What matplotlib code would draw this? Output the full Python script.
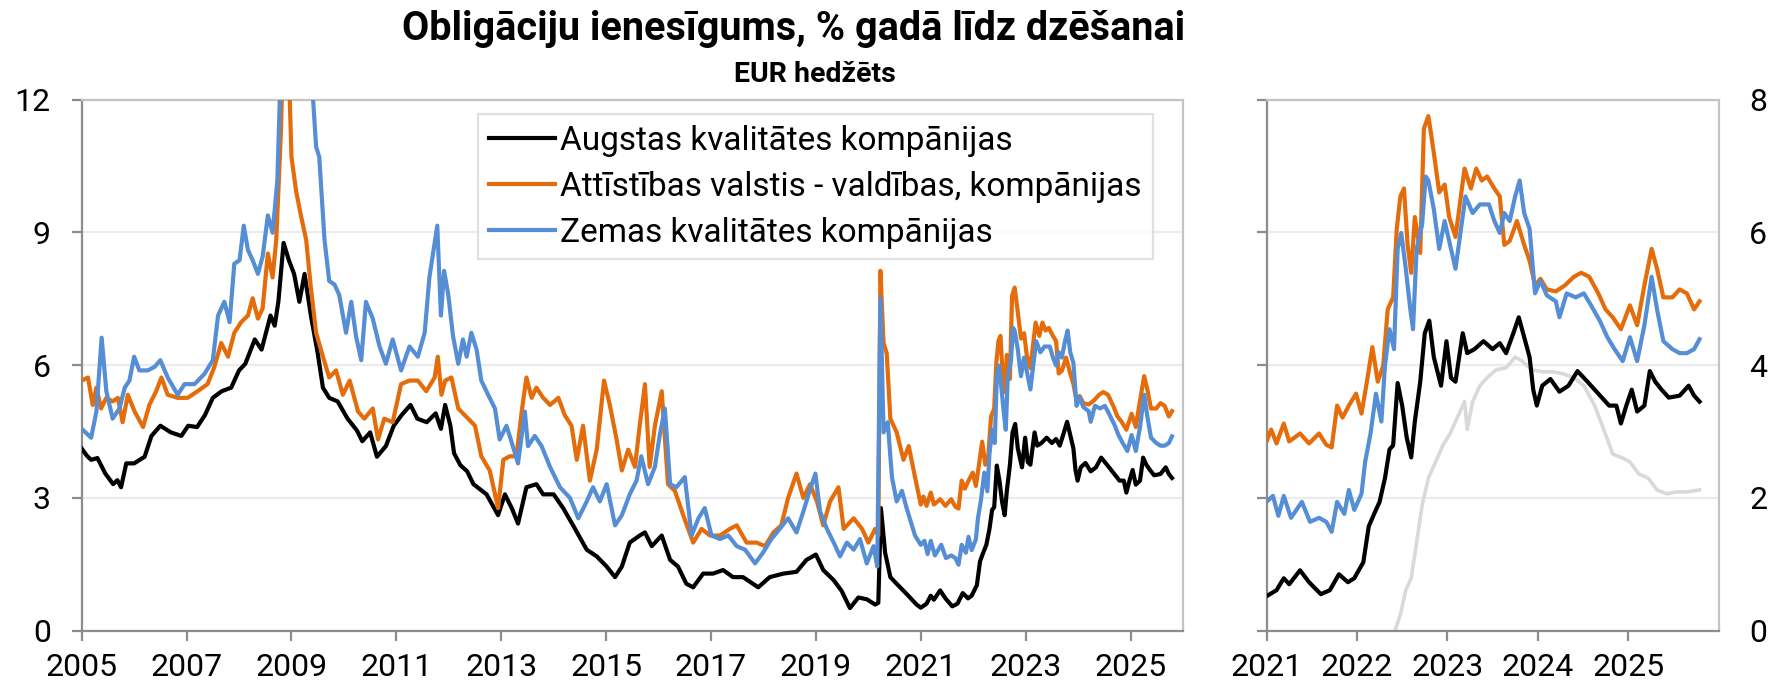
import matplotlib
matplotlib.use("Agg")
import matplotlib.pyplot as plt

plt.rcParams['font.family'] = ['Roboto', 'DejaVu Sans']

# data (decimal years, % p.a.)
hg_t = [2004.99, 2005.1, 2005.18, 2005.3, 2005.45, 2005.6, 2005.68, 2005.75, 2005.85, 2006.0,
        2006.2, 2006.33, 2006.5, 2006.7, 2006.9, 2007.03, 2007.2, 2007.35, 2007.5, 2007.67,
        2007.85, 2008.0, 2008.12, 2008.3, 2008.43, 2008.6, 2008.68, 2008.75, 2008.85, 2008.95,
        2009.05, 2009.15, 2009.25, 2009.37, 2009.5, 2009.6, 2009.72, 2009.88, 2010.07, 2010.25,
        2010.35, 2010.5, 2010.63, 2010.8, 2010.95, 2011.1, 2011.27, 2011.4, 2011.58, 2011.75,
        2011.85, 2011.93, 2012.03, 2012.1, 2012.22, 2012.35, 2012.47, 2012.72, 2012.94, 2013.07,
        2013.2, 2013.32, 2013.48, 2013.67, 2013.8, 2014.0, 2014.18, 2014.37, 2014.63, 2014.82,
        2015.01, 2015.17, 2015.3, 2015.45, 2015.64, 2015.74, 2015.87, 2016.06, 2016.22, 2016.37,
        2016.53, 2016.66, 2016.85, 2017.04, 2017.23, 2017.42, 2017.61, 2017.9, 2018.12, 2018.38,
        2018.63, 2018.82, 2019.0, 2019.14, 2019.34, 2019.49, 2019.65, 2019.81, 2019.97, 2020.13,
        2020.19, 2020.24, 2020.32, 2020.42, 2020.54, 2020.73, 2020.92,
        2021.0, 2021.11, 2021.19, 2021.25, 2021.37, 2021.47, 2021.6, 2021.7, 2021.8, 2021.9,
        2021.97, 2022.07, 2022.13, 2022.19, 2022.25, 2022.31, 2022.36, 2022.4, 2022.45, 2022.5,
        2022.55, 2022.6, 2022.64, 2022.7, 2022.75, 2022.8, 2022.85, 2022.93, 2022.99, 2023.04,
        2023.09, 2023.17, 2023.22, 2023.3, 2023.4, 2023.5, 2023.58, 2023.65, 2023.73, 2023.79,
        2023.85, 2023.91, 2023.95, 2023.99, 2024.05, 2024.14, 2024.24, 2024.34, 2024.44, 2024.55,
        2024.67, 2024.79, 2024.87, 2024.92, 2024.98, 2025.04, 2025.1, 2025.18, 2025.24, 2025.3,
        2025.37, 2025.45, 2025.57, 2025.67, 2025.73, 2025.79]
hg_y = [4.13, 3.95, 3.86, 3.9, 3.55, 3.31, 3.4, 3.24, 3.78, 3.78,
        3.93, 4.4, 4.63, 4.48, 4.4, 4.63, 4.6, 4.87, 5.26, 5.41,
        5.49, 5.88, 6.03, 6.58, 6.35, 7.12, 6.89, 7.43, 8.76, 8.37,
        8.06, 7.43, 8.06, 7.12, 6.27, 5.49, 5.26, 5.18, 4.79, 4.52,
        4.28, 4.48, 3.93, 4.17, 4.63, 4.87, 5.1, 4.79, 4.71, 4.91,
        4.56, 5.1, 4.63, 4.01, 3.74, 3.6, 3.31, 3.08, 2.61, 3.08,
        2.77, 2.42, 3.24, 3.31, 3.08, 3.08, 2.77, 2.38, 1.83, 1.68,
        1.45, 1.21, 1.45, 1.99, 2.15, 2.22, 1.91, 2.15, 1.6, 1.45,
        1.06, 0.98, 1.29, 1.29, 1.37, 1.21, 1.21, 0.98, 1.21, 1.29,
        1.33, 1.6, 1.72, 1.37, 1.14, 0.9, 0.51, 0.75, 0.71, 0.59,
        0.63, 2.77, 1.76, 1.21, 1.06, 0.83, 0.59,
        0.52, 0.61, 0.79, 0.7, 0.91, 0.73, 0.55, 0.61, 0.85, 0.73,
        0.79, 1.03, 1.57, 1.76, 1.94, 2.3, 2.73, 2.79, 3.73, 3.39,
        2.91, 2.61, 3.15, 3.75, 4.48, 4.67, 4.12, 3.69, 4.36, 3.81,
        3.75, 4.48, 4.18, 4.24, 4.36, 4.24, 4.33, 4.18, 4.48, 4.72,
        4.42, 4.12, 3.63, 3.39, 3.69, 3.79, 3.6, 3.69, 3.91, 3.75,
        3.57, 3.39, 3.39, 3.12, 3.39, 3.63, 3.3, 3.39, 3.91, 3.75,
        3.63, 3.51, 3.54, 3.69, 3.54, 3.45]

em_t = [2005.0, 2005.12, 2005.21, 2005.28, 2005.37, 2005.47, 2005.59, 2005.69, 2005.78, 2005.88,
        2006.01, 2006.17, 2006.29, 2006.42, 2006.52, 2006.64, 2006.83, 2007.02, 2007.21, 2007.4,
        2007.53, 2007.66, 2007.79, 2007.91, 2008.04, 2008.17, 2008.26, 2008.36, 2008.45, 2008.55,
        2008.64, 2008.71, 2008.8, 2008.86, 2008.93, 2009.0, 2009.09, 2009.18, 2009.28, 2009.37,
        2009.47, 2009.6, 2009.72, 2009.85, 2009.98, 2010.11, 2010.27, 2010.39, 2010.55, 2010.65,
        2010.77, 2010.93, 2011.09, 2011.25, 2011.41, 2011.57, 2011.73, 2011.79, 2011.86, 2011.93,
        2012.05, 2012.18, 2012.37, 2012.5, 2012.62, 2012.78, 2012.94, 2013.04, 2013.16, 2013.29,
        2013.39, 2013.48, 2013.58, 2013.67, 2013.8, 2013.93, 2014.09, 2014.21, 2014.34, 2014.44,
        2014.56, 2014.69, 2014.82, 2014.96, 2015.07, 2015.2, 2015.3, 2015.42, 2015.55, 2015.64,
        2015.74, 2015.83, 2015.93, 2016.06, 2016.18, 2016.31, 2016.47, 2016.66, 2016.82, 2016.98,
        2017.17, 2017.36, 2017.49, 2017.68, 2017.87, 2018.03, 2018.19, 2018.34, 2018.47, 2018.63,
        2018.76, 2018.89, 2019.02, 2019.14, 2019.27, 2019.43, 2019.53, 2019.72, 2019.88, 2020.0,
        2020.13, 2020.19, 2020.23, 2020.29, 2020.35, 2020.42, 2020.54, 2020.67, 2020.77, 2020.89,
        2021.0, 2021.05, 2021.11, 2021.19, 2021.25, 2021.37, 2021.47, 2021.58, 2021.66, 2021.72,
        2021.78, 2021.84, 2021.91, 2021.99, 2022.05, 2022.11, 2022.17, 2022.23, 2022.29, 2022.34,
        2022.4, 2022.44, 2022.48, 2022.52, 2022.56, 2022.6, 2022.64, 2022.7, 2022.74, 2022.79,
        2022.85, 2022.91, 2022.97, 2023.02, 2023.09, 2023.19, 2023.26, 2023.32, 2023.38, 2023.44,
        2023.52, 2023.58, 2023.63, 2023.69, 2023.77, 2023.85, 2023.91, 2023.97, 2024.03, 2024.1,
        2024.2, 2024.3, 2024.4, 2024.48, 2024.57, 2024.67, 2024.75, 2024.83, 2024.92, 2025.02,
        2025.1, 2025.18, 2025.26, 2025.32, 2025.39, 2025.49, 2025.57, 2025.65, 2025.73, 2025.79]
em_y = [5.65, 5.72, 5.1, 5.49, 5.02, 5.26, 5.18, 5.26, 4.71, 5.33,
        4.95, 4.6, 5.1, 5.41, 5.72, 5.33, 5.26, 5.26, 5.41, 5.57,
        5.96, 6.5, 6.19, 6.73, 6.97, 7.12, 7.51, 7.05, 7.28, 8.52,
        7.98, 8.83, 11.3, 14.2, 13.5, 10.7, 9.92, 9.38, 8.83, 7.75,
        6.73, 6.19, 5.72, 5.88, 5.33, 5.65, 4.95, 4.79, 5.02, 4.32,
        4.79, 4.71, 5.57, 5.65, 5.65, 5.41, 5.72, 6.19, 5.33, 5.65,
        5.72, 5.02, 4.79, 4.63, 3.94, 3.62, 2.77, 3.86, 3.94, 3.94,
        4.95, 5.72, 5.26, 5.49, 5.26, 5.1, 5.26, 4.87, 4.63, 3.86,
        4.63, 3.39, 4.09, 5.65, 5.1, 4.32, 3.62, 4.09, 3.7, 4.63,
        5.57, 3.7, 4.63, 5.41, 3.31, 3.16, 2.61, 1.99, 2.3, 2.15,
        2.15, 2.3, 2.38, 1.99, 1.99, 1.91, 2.22, 2.38, 3.0, 3.55,
        3.0, 3.31, 2.92, 2.38, 2.92, 3.24, 2.3, 2.54, 2.3, 1.99,
        2.3, 2.15, 8.13, 6.5, 6.27, 4.79, 4.48, 3.86, 4.17, 3.47,
        2.85, 3.03, 2.82, 3.12, 2.85, 2.97, 2.82, 2.97, 2.8, 2.76,
        3.39, 3.21, 3.39, 3.57, 3.27, 3.75, 4.27, 3.75, 3.99, 4.84,
        5.02, 6.05, 6.54, 6.66, 5.81, 5.39, 6.23, 5.69, 7.56, 7.75,
        7.2, 6.6, 6.72, 6.23, 5.93, 6.96, 6.66, 6.96, 6.78, 6.84,
        6.66, 6.54, 5.81, 5.87, 6.17, 5.81, 5.57, 5.2, 5.3, 5.14,
        5.11, 5.2, 5.33, 5.39, 5.33, 5.08, 4.84, 4.72, 4.54, 4.9,
        4.6, 5.2, 5.75, 5.45, 5.02, 5.02, 5.14, 5.08, 4.84, 4.96]

hy_t = [2005.0, 2005.18, 2005.28, 2005.38, 2005.47, 2005.59, 2005.72, 2005.82, 2005.91, 2006.0,
        2006.1, 2006.26, 2006.39, 2006.5, 2006.64, 2006.83, 2006.96, 2007.15, 2007.34, 2007.5,
        2007.6, 2007.72, 2007.82, 2007.91, 2008.01, 2008.09, 2008.17, 2008.26, 2008.36, 2008.45,
        2008.55, 2008.64, 2008.73, 2008.79, 2008.85, 2008.95, 2009.1, 2009.25, 2009.38, 2009.47,
        2009.53, 2009.63, 2009.72, 2009.82, 2009.91, 2010.04, 2010.14, 2010.23, 2010.33, 2010.42,
        2010.55, 2010.68, 2010.8, 2010.93, 2011.09, 2011.25, 2011.41, 2011.54, 2011.63, 2011.78,
        2011.85, 2011.91, 2011.99, 2012.08, 2012.18, 2012.27, 2012.34, 2012.43, 2012.53, 2012.62,
        2012.75, 2012.88, 2012.97, 2013.1, 2013.2, 2013.32, 2013.45, 2013.51, 2013.64, 2013.77,
        2013.93, 2014.12, 2014.31, 2014.47, 2014.63, 2014.75, 2014.88, 2015.01, 2015.17, 2015.3,
        2015.45, 2015.58, 2015.67, 2015.8, 2015.93, 2016.02, 2016.12, 2016.22, 2016.34, 2016.5,
        2016.63, 2016.76, 2016.88, 2017.01, 2017.17, 2017.33, 2017.49, 2017.65, 2017.84, 2017.99,
        2018.15, 2018.31, 2018.47, 2018.63, 2018.76, 2018.88, 2018.99, 2019.08, 2019.21, 2019.34,
        2019.46, 2019.59, 2019.72, 2019.84, 2019.97, 2020.1, 2020.17, 2020.23, 2020.29, 2020.37,
        2020.45, 2020.54, 2020.64, 2020.73, 2020.89,
        2021.0, 2021.07, 2021.13, 2021.19, 2021.27, 2021.39, 2021.48, 2021.58, 2021.66, 2021.72,
        2021.78, 2021.86, 2021.91, 2021.97, 2022.05, 2022.09, 2022.15, 2022.21, 2022.27, 2022.31,
        2022.36, 2022.41, 2022.45, 2022.49, 2022.54, 2022.59, 2022.62, 2022.66, 2022.72, 2022.76,
        2022.79, 2022.85, 2022.91, 2022.97, 2023.03, 2023.09, 2023.15, 2023.2, 2023.28, 2023.36,
        2023.46, 2023.52, 2023.58, 2023.63, 2023.69, 2023.75, 2023.8, 2023.85, 2023.91, 2023.97,
        2024.03, 2024.1, 2024.2, 2024.24, 2024.32, 2024.42, 2024.51, 2024.59, 2024.69, 2024.77,
        2024.85, 2024.94, 2025.02, 2025.1, 2025.18, 2025.26, 2025.32, 2025.39, 2025.49, 2025.57,
        2025.65, 2025.73, 2025.79]
hy_y = [4.56, 4.36, 4.95, 6.62, 5.41, 4.79, 5.02, 5.49, 5.65, 6.19,
        5.88, 5.88, 5.96, 6.11, 5.72, 5.33, 5.57, 5.57, 5.8, 6.11,
        7.12, 7.43, 6.97, 8.29, 8.37, 9.15, 8.6, 8.37, 8.06, 8.45,
        9.38, 8.99, 10.16, 12.5, 17.0, 21.0, 20.0, 16.0, 12.6, 10.93,
        10.7, 8.83, 7.9, 7.82, 7.59, 6.73, 7.43, 6.66, 6.11, 7.43,
        7.05, 6.42, 6.03, 6.58, 5.88, 6.42, 6.19, 6.73, 7.98, 9.15,
        7.12, 8.13, 7.59, 6.66, 6.03, 6.58, 6.19, 6.73, 6.35, 5.65,
        5.33, 5.02, 4.32, 4.63, 4.25, 3.78, 4.95, 4.17, 4.4, 4.17,
        3.7, 3.24, 3.0, 2.54, 2.92, 3.24, 2.92, 3.31, 2.38, 2.61,
        3.08, 3.39, 3.94, 3.31, 3.7, 4.4, 5.02, 3.31, 3.24, 3.47,
        2.15, 2.54, 2.77, 2.15, 2.07, 2.15, 1.91, 1.83, 1.52, 1.76,
        2.07, 2.3, 2.54, 2.22, 2.69, 3.16, 3.55, 2.69, 2.3, 1.99,
        1.68, 1.99, 1.83, 2.07, 1.52, 1.91, 1.45, 7.51, 4.48, 4.71,
        3.47, 2.92, 3.16, 2.77, 2.15,
        1.94, 2.03, 1.73, 2.03, 1.7, 1.94, 1.64, 1.7, 1.64, 1.49,
        1.94, 1.76, 2.12, 1.82, 2.06, 2.54, 2.97, 3.57, 3.15, 4.0,
        4.54, 4.24, 5.75, 5.99, 5.45, 4.84, 4.54, 5.75, 6.11, 6.84,
        6.78, 6.35, 5.75, 6.17, 5.81, 5.45, 6.05, 6.54, 6.29, 6.42,
        6.42, 6.17, 5.99, 6.29, 6.17, 6.54, 6.78, 6.29, 6.05, 5.08,
        5.27, 5.05, 4.96, 4.72, 5.08, 5.02, 5.08, 4.9, 4.66, 4.42,
        4.24, 4.06, 4.42, 4.06, 4.6, 5.33, 4.84, 4.36, 4.24, 4.18,
        4.18, 4.24, 4.39]

eur_t = [2021.0, 2021.5, 2022.0, 2022.2, 2022.3, 2022.42, 2022.48, 2022.54, 2022.6, 2022.66,
         2022.72, 2022.79, 2022.87, 2022.95, 2023.03, 2023.11, 2023.19, 2023.22, 2023.28, 2023.36,
         2023.44, 2023.54, 2023.65, 2023.75, 2023.83, 2023.93, 2024.05, 2024.16, 2024.28, 2024.4,
         2024.51, 2024.63, 2024.73, 2024.83, 2024.94, 2025.02, 2025.12, 2025.22, 2025.32, 2025.43,
         2025.53, 2025.65, 2025.79]
eur_y = [-0.54, -0.54, -0.57, -0.45, -0.3, 0.0, 0.24, 0.61, 0.79, 1.33,
         1.88, 2.3, 2.54, 2.79, 2.97, 3.21, 3.45, 3.03, 3.45, 3.69,
         3.81, 3.93, 3.96, 4.12, 4.06, 3.93, 3.9, 3.9, 3.87, 3.81,
         3.69, 3.39, 3.03, 2.66, 2.6, 2.54, 2.36, 2.3, 2.12, 2.06,
         2.09, 2.09, 2.12]

labels = ["Augstas kvalitātes kompānijas",
          "Attīstības valstis - valdības, kompānijas",
          "Zemas kvalitātes kompānijas"]
colors = ["#000000", "#E46C0A", "#558ED5"]

left_years = list(range(2005, 2026, 2))
right_years = list(range(2021, 2026))

W, H = 1776, 690
fig = plt.figure(figsize=(W / 100, H / 100), dpi=100)
ax1 = fig.add_axes([81.7 / W, 1 - 630.7 / H, (1183 - 81.7) / W, (630.7 - 99.5) / H])
ax2 = fig.add_axes([1266.6 / W, 1 - 630.7 / H, (1718.5 - 1266.6) / W, (630.7 - 99.5) / H])

lw = 3.0
lines = []
for ax in (ax1, ax2):
    if ax is ax2:
        ax.plot(eur_t, eur_y, color="#D9D9D9", lw=2.6, zorder=2)
    l1, = ax.plot(hg_t, hg_y, color=colors[0], lw=lw, zorder=3)
    l2, = ax.plot(em_t, em_y, color=colors[1], lw=lw, zorder=3)
    l3, = ax.plot(hy_t, hy_y, color=colors[2], lw=lw, zorder=3)
    if ax is ax1:
        lines = [l1, l2, l3]

    ax.set_axisbelow(True)
    ax.yaxis.grid(True, color="#ececec", lw=1.6)
    for s in ("left", "bottom"):
        ax.spines[s].set_color("#8c8c8c")
        ax.spines[s].set_linewidth(1.6)
    for s in ("top", "right"):
        ax.spines[s].set_color("#c4c4c4")
        ax.spines[s].set_linewidth(1.6)
    ax.tick_params(axis="both", direction="out", length=7.2, width=1.6,
                   color="#8c8c8c", labelsize=23, labelcolor="#000000")
    ax.tick_params(axis="x", pad=9)

ax1.set_xlim(2005, 2026)
ax1.set_ylim(0, 12)
ax1.set_xticks(left_years)
ax1.set_xticklabels([str(y) for y in left_years])
ax1.set_yticks([0, 3, 6, 9, 12])
ax1.tick_params(axis="y", pad=15)

ax2.set_xlim(2021, 2026)
ax2.set_ylim(0, 8)
ax2.set_xticks(right_years)
ax2.set_xticklabels([str(y) for y in right_years])
ax2.set_yticks([0, 2, 4, 6, 8])
ax2.tick_params(axis="y", left=True, labelleft=False, right=False, labelright=True, pad=15)

leg = fig.legend(lines, labels, loc="upper left",
                 bbox_to_anchor=(478 / W, 1 - 114 / H), bbox_transform=fig.transFigure,
                 fontsize=24, frameon=True, fancybox=False, borderaxespad=0,
                 handlelength=2.0, handletextpad=0.15, labelspacing=0.42, borderpad=0.32)
leg.get_frame().set_edgecolor("#d9d9d9")
leg.get_frame().set_linewidth(1.6)
for h in leg.get_lines():
    h.set_linewidth(3.0)

fig.text(794 / W, 1 - 40 / H, "Obligāciju ienesīgums, % gadā līdz dzēšanai",
         ha="center", va="baseline", fontsize=28.5, fontweight="bold")
fig.text(815 / W, 1 - 82 / H, "EUR hedžēts",
         ha="center", va="baseline", fontsize=20.5, fontweight="bold")

fig.savefig("out.png", dpi=100)
